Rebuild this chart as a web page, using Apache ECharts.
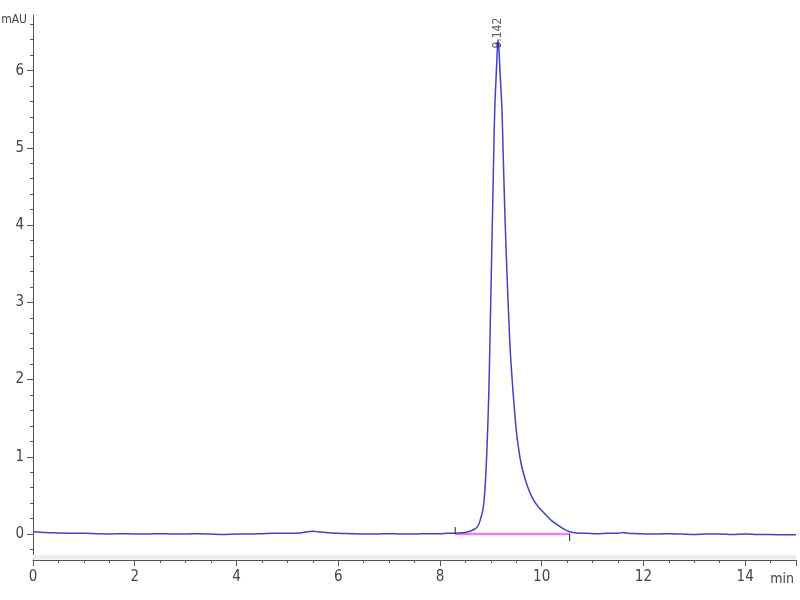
<!DOCTYPE html>
<html>
<head>
<meta charset="utf-8">
<script src="https://cdn.jsdelivr.net/npm/echarts@6/dist/echarts.min.js"></script>
<style>html,body{margin:0;padding:0;background:#fff}#c{width:800px;height:600px}</style>
</head>
<body>
<div id="c"></div>
<script>
// Retention time (min) and absorbance (mAU)
const timeMin = [
  0, 0.25, 0.5, 0.75, 1, 1.25, 1.5, 1.75, 2, 2.25, 2.5, 2.75, 3, 3.25, 3.5, 3.75,
  4, 4.25, 4.5, 4.75, 5, 5.25, 5.4, 5.5, 5.6, 5.75, 6, 6.25, 6.5, 6.75, 7, 7.25,
  7.5, 7.75, 8, 8.15, 8.3, 8.5, 8.6, 8.7, 8.76, 8.8, 8.84, 8.87, 8.9, 8.93, 8.96,
  8.98, 9.0, 9.02, 9.04, 9.06, 9.08, 9.1, 9.12, 9.142, 9.16, 9.18, 9.2, 9.22, 9.24,
  9.27, 9.3, 9.34, 9.38, 9.42, 9.45, 9.5, 9.55, 9.6, 9.68, 9.76, 9.84, 9.95, 10.08,
  10.2, 10.33, 10.45, 10.55, 10.7, 10.9, 11.1, 11.3, 11.5, 11.6, 11.7, 11.9, 12.1,
  12.3, 12.5, 12.75, 13, 13.25, 13.5, 13.75, 14, 14.25, 14.5, 14.75, 15
];
const signalMAU = [
  0.03, 0.02, 0.015, 0.01, 0.01, 0.005, 0.0, 0.005, 0.0, 0.0, 0.005, 0.0, 0.0, 0.005, 0.0, -0.005,
  0.0, 0.0, 0.005, 0.01, 0.01, 0.015, 0.03, 0.035, 0.03, 0.02, 0.01, 0.005, 0.0, 0.0, 0.005, 0.0,
  0.0, 0.005, 0.005, 0.01, 0.01, 0.02, 0.04, 0.07, 0.12, 0.2, 0.3, 0.45, 0.75, 1.2, 1.8,
  2.4, 3.05, 3.7, 4.35, 5.0, 5.55, 5.85, 6.15, 6.4, 6.28, 6.0, 5.75, 5.5, 5.0,
  4.3, 3.7, 3.0, 2.4, 2.0, 1.73, 1.35, 1.09, 0.9, 0.7, 0.55, 0.44, 0.34, 0.25,
  0.17, 0.11, 0.06, 0.03, 0.015, 0.01, 0.005, 0.01, 0.01, 0.02, 0.01, 0.005, 0.0,
  0.0, 0.005, 0.0, -0.005, 0.0, 0.0, -0.005, 0.0, -0.005, -0.005, -0.01, -0.01
];
// Integration baseline of the peak
const baseTime = [8.3, 10.55];
const baseValue = [0.0, 0.0];
const peakTime = 9.142;
const peakValue = 6.33;
const peakLabel = '9.142';
// Axis ticks
const yMajorTicks = [0, 1, 2, 3, 4, 5, 6];
const yMinorTicks = [-0.2, 0.2, 0.4, 0.6, 0.8, 1.2, 1.4, 1.6, 1.8, 2.2, 2.4, 2.6, 2.8,
  3.2, 3.4, 3.6, 3.8, 4.2, 4.4, 4.6, 4.8, 5.2, 5.4, 5.6, 5.8, 6.2, 6.4, 6.6];

const FONT = '"Liberation Sans Narrow", "DejaVu Sans Condensed", sans-serif';
const chart = echarts.init(document.getElementById('c'), null, {renderer: 'canvas'});
const Y_MIN = -0.336, Y_MAX = 6.72;

chart.setOption({
  animation: false,
  backgroundColor: '#fff',
  grid: {left: 33, right: 4, top: 15, bottom: 40, containLabel: false, outerBoundsMode: 'none'},
  xAxis: {
    type: 'value', min: 0, max: 15, interval: 2,
    name: 'min', nameLocation: 'end', nameGap: -2,
    nameTextStyle: {fontFamily: FONT, fontSize: 14, color: '#444', align: 'right', verticalAlign: 'top', padding: [12, 0, 0, 0]},
    axisLine: {show: true, onZero: false, lineStyle: {color: '#555', width: 1}},
    axisTick: {show: true, length: 6, lineStyle: {color: '#555'}},
    minorTick: {show: true, splitNumber: 4, length: 3, lineStyle: {color: '#555'}},
    axisLabel: {fontFamily: FONT, fontSize: 15, color: '#444', margin: 10, showMaxLabel: false},
    splitLine: {show: false}
  },
  yAxis: [{
    type: 'value', min: Y_MIN, max: Y_MAX,
    name: 'mAU', nameLocation: 'end', nameGap: -5,
    nameTextStyle: {fontFamily: FONT, fontSize: 12, color: '#444', align: 'right', verticalAlign: 'middle', padding: [0, 6, 0, 0]},
    axisLine: {show: true, onZero: false, lineStyle: {color: '#555', width: 1}},
    axisTick: {show: true, length: 6, customValues: yMajorTicks, lineStyle: {color: '#555'}},
    axisLabel: {fontFamily: FONT, fontSize: 15, color: '#444', margin: 9, customValues: yMajorTicks},
    splitLine: {show: false}
  }, {
    type: 'value', min: Y_MIN, max: Y_MAX, position: 'left', offset: 0,
    axisLine: {show: false, onZero: false},
    axisTick: {show: true, length: 3, customValues: yMinorTicks, lineStyle: {color: '#555'}},
    axisLabel: {show: false},
    splitLine: {show: false}
  }],
  series: [{
    type: 'line',
    data: timeMin.map((t, i) => [t, signalMAU[i]]),
    showSymbol: false,
    smooth: 0.3,
    lineStyle: {color: '#4040c8', width: 1.5},
    z: 3,
    markArea: {
      silent: true,
      itemStyle: {color: '#ececec'},
      data: [[{yAxis: Y_MIN + 0.005}, {yAxis: -0.27}]]
    }
  }, {
    type: 'line',
    data: baseTime.map((t, i) => [t, baseValue[i]]),
    showSymbol: false,
    lineStyle: {color: '#f07ef0', width: 2.5},
    z: 2
  }, {
    type: 'line',
    data: [[baseTime[0], baseValue[0]], [baseTime[0], baseValue[0] + 0.09]],
    showSymbol: false,
    lineStyle: {color: '#222', width: 1},
    z: 4
  }, {
    type: 'line',
    data: [[baseTime[1], baseValue[1]], [baseTime[1], baseValue[1] - 0.09]],
    showSymbol: false,
    lineStyle: {color: '#222', width: 1},
    z: 4
  }, {
    type: 'scatter',
    data: [[peakTime, peakValue]],
    symbol: 'circle', symbolSize: 5,
    itemStyle: {color: 'rgba(60,60,180,0.6)'},
    label: {
      show: true, formatter: peakLabel, rotate: 90,
      position: 'top', distance: -6, align: 'left', verticalAlign: 'middle',
      fontFamily: FONT, fontSize: 12, color: '#333'
    },
    z: 5
  }]
});
</script>
</body>
</html>
